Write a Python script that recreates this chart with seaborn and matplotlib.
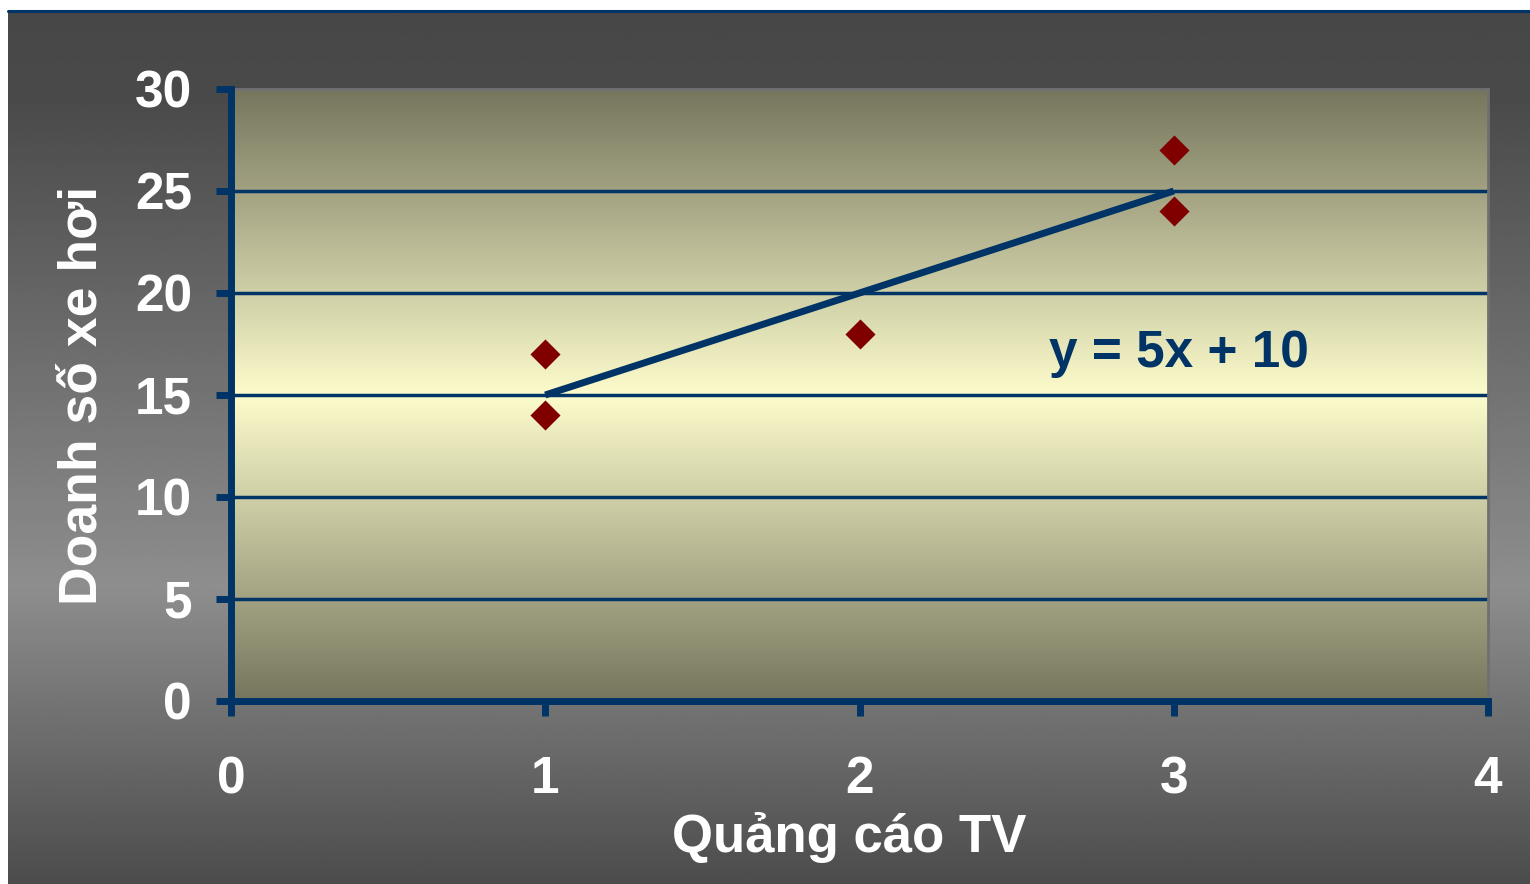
import numpy as np
import matplotlib
matplotlib.use("Agg")
import matplotlib.pyplot as plt
from matplotlib.lines import Line2D
from matplotlib.colors import LinearSegmentedColormap
import seaborn as sns

# Data: TV advertising spots vs. car sales
tv_ads = [1, 1, 2, 3, 3]
car_sales = [14, 17, 18, 24, 27]
x_ticks = [0, 1, 2, 3, 4]
y_ticks = [0, 5, 10, 15, 20, 25, 30]
x_label = "Quảng cáo TV"
y_label = "Doanh số xe hơi"

NAVY = "#003366"
MARKER = "#800000"

sns.set_style("white")
plt.rcParams["font.family"] = ["Liberation Sans", "DejaVu Sans"]
plt.rcParams["font.weight"] = "bold"

W, H = 1530, 884
fig = plt.figure(figsize=(W / 100, H / 100), dpi=100, facecolor="white")

# Figure backdrop: vertical grey gradient, dark at top and bottom
bg = fig.add_axes([8 / W, 0, 1 - 8 / W, 1 - 11 / H], zorder=-10)
rows = np.linspace(0, 1, 400)
stops_pos = [0.0, 0.10, 0.66, 1.0]
stops_val = [71, 74, 142, 76]
grey = np.interp(rows, stops_pos, stops_val) / 255.0
bg.imshow(np.repeat(grey[:, None], 2, axis=1), cmap="gray", vmin=0, vmax=1,
          aspect="auto", extent=[0, 1, 0, 1], interpolation="bilinear")
bg.set_axis_off()
fig.add_artist(Line2D([8 / W, 1], [1 - 11 / H, 1 - 11 / H], color=NAVY, lw=2.2,
                      transform=fig.transFigure))

# Plot area
ax = fig.add_axes([231 / W, 1 - 701 / H, (1488 - 231) / W, (701 - 89) / H])
ax.set_xlim(0, 4)
ax.set_ylim(0, 30)

# Plot area fill: olive at edges, pale yellow in the middle
edge_c = np.array([118, 118, 94]) / 255.0
mid_c = np.array([252, 252, 204]) / 255.0
panel_cmap = LinearSegmentedColormap.from_list("panel", [edge_c, mid_c, edge_c])
ax.imshow(np.linspace(0, 1, 400)[:, None], cmap=panel_cmap, aspect="auto",
          extent=[0, 1, 0, 1], transform=ax.transAxes, zorder=0,
          interpolation="bilinear")

# Scatter with least-squares trend line
sns.regplot(x=tv_ads, y=car_sales, ci=None, ax=ax, marker="D",
            scatter_kws=dict(s=235, color=MARKER, edgecolor=MARKER, linewidths=0,
                             alpha=1, zorder=4),
            line_kws=dict(color=NAVY, lw=5, solid_capstyle="butt", zorder=3))
ax.set_xlim(0, 4)
ax.set_ylim(0, 30)

slope, intercept = np.polyfit(tv_ads, car_sales, 1)
ax.text(2.603, 16.37, f"y = {slope:.0f}x + {intercept:.0f}", color=NAVY,
        fontsize=37, fontweight="bold", ha="left", va="baseline", zorder=5)

# Horizontal grid lines
for yv in y_ticks[1:-1]:
    ax.axhline(yv, color=NAVY, lw=2.5, zorder=1)

ax.set_xticks(x_ticks)
ax.set_yticks(y_ticks)
ax.tick_params(axis="both", direction="out", length=11, width=5, color=NAVY,
               labelcolor="white", labelsize=37, bottom=True, left=True)
ax.tick_params(axis="x", pad=28)
ax.tick_params(axis="y", pad=17)
for lab in ax.get_xticklabels() + ax.get_yticklabels():
    lab.set_fontweight("bold")

for side in ("left", "bottom"):
    ax.spines[side].set_color(NAVY)
    ax.spines[side].set_linewidth(5)
    ax.spines[side].set_zorder(6)
for side in ("top", "right"):
    ax.spines[side].set_color("#707070")
    ax.spines[side].set_linewidth(2)
    ax.spines[side].set_visible(True)

ax.set_xlabel(x_label, color="white", fontsize=38, fontweight="bold")
ax.xaxis.set_label_coords(0.4916, -0.247)
ax.xaxis.label.set_va("baseline")
ax.set_ylabel(y_label, color="white", fontsize=38.5, fontweight="bold", labelpad=20)

fig.savefig("out.png", dpi=100, facecolor="white")
